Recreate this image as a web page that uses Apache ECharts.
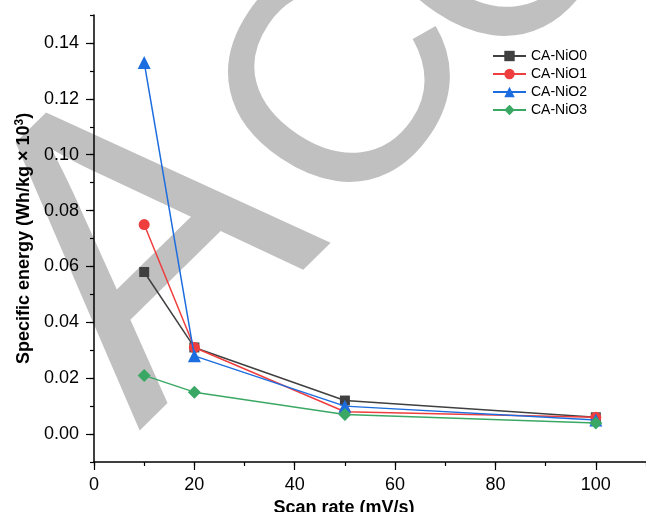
<!DOCTYPE html>
<html>
<head>
<meta charset="utf-8">
<script src="https://cdn.jsdelivr.net/npm/echarts@6/dist/echarts.min.js"></script>
<style>
html,body{margin:0;padding:0;background:#fff;}
#chart{width:646px;height:512px;}
</style>
</head>
<body>
<div id="chart"></div>
<script>
// ---- data ----
var scanRates = [10, 20, 50, 100];
var seriesNames = ['CA-NiO0', 'CA-NiO1', 'CA-NiO2', 'CA-NiO3'];
var nio0 = [0.058, 0.031, 0.012, 0.006];
var nio1 = [0.075, 0.031, 0.008, 0.006];
var nio2 = [0.133, 0.028, 0.010, 0.005];
var nio3 = [0.021, 0.015, 0.007, 0.004];
var xTickLabels = [0, 20, 40, 60, 80, 100];
var yTickLabels = [0.00, 0.02, 0.04, 0.06, 0.08, 0.10, 0.12, 0.14];
var watermarkLetters = ['A', 'C', 'C'];

// ---- styles ----
var colors = ['#404040', '#ef3e3e', '#1c6ddf', '#3aa864'];
var symbols = ['rect', 'circle', 'triangle', 'diamond'];
var symbolSizes = [10, 11, 13, 13];
var FONT = '"Liberation Sans", Arial, sans-serif';
// watermark letter placement (decoration)
var wmPlace = [
  {x: 153, y: 253, rot: 44.5, size: 425, sx: 0.95},
  {x: 353, y: 91, rot: 56, size: 310, sx: 1},
  {x: 508, y: -55, rot: 56, size: 310, sx: 1}
];

function pairs(ys) { return scanRates.map(function (x, i) { return [x, ys[i]]; }); }
var allValues = [nio0, nio1, nio2, nio3];

var chart = echarts.init(document.getElementById('chart'), null, {renderer: 'canvas'});

var series = allValues.map(function (vals, i) {
  return {
    name: seriesNames[i],
    type: 'line',
    xAxisIndex: 0,
    yAxisIndex: 0,
    data: pairs(vals),
    symbol: symbols[i],
    symbolSize: symbolSizes[i],
    showAllSymbol: true,
    lineStyle: {color: colors[i], width: 1.5},
    itemStyle: {color: colors[i]},
    emphasis: {disabled: true},
    z: 3 + i
  };
});

var watermark = watermarkLetters.map(function (ch, i) {
  var p = wmPlace[i];
  return {
    type: 'text',
    silent: true,
    x: p.x, y: p.y,
    rotation: p.rot * Math.PI / 180,
    scaleX: p.sx,
    z: -1,
    style: {
      text: ch,
      font: p.size + 'px "Liberation Sans", Arial, sans-serif',
      fill: '#c0c0c0',
      align: 'center',
      verticalAlign: 'middle'
    }
  };
});

var option = {
  backgroundColor: '#ffffff',
  animation: false,
  textStyle: {fontFamily: FONT},
  grid: {left: 94, top: 15, right: 0, bottom: 50, containLabel: false, outerBoundsMode: 'none'},
  legend: {
    data: seriesNames,
    orient: 'vertical',
    left: 492,
    top: 49,
    padding: 0,
    itemWidth: 33,
    itemHeight: 13,
    itemGap: 4,
    textStyle: {fontFamily: FONT, fontSize: 14, color: '#000', lineHeight: 14},
    selectedMode: false
  },
  xAxis: [{
    type: 'value',
    min: 0, max: 110, interval: 10,
    axisLine: {show: true, onZero: false, lineStyle: {color: '#000', width: 1.5}},
    axisTick: {show: true, inside: false, length: 4, lineStyle: {color: '#000', width: 1.2}},
    axisLabel: {customValues: xTickLabels, margin: 14, fontSize: 18, color: '#000', fontFamily: FONT},
    splitLine: {show: false},
    name: 'Scan rate (mV/s)',
    nameLocation: 'middle',
    nameGap: 31,
    nameTextStyle: {fontSize: 18, fontWeight: 'bold', color: '#000', fontFamily: FONT, padding: [0, 52, 0, 0]}
  }, {
    type: 'value',
    position: 'bottom',
    min: 0, max: 110, interval: 10,
    axisLine: {show: false, onZero: false},
    axisTick: {show: true, inside: false, length: 8, customValues: xTickLabels, lineStyle: {color: '#000', width: 1.2}},
    axisLabel: {show: false},
    splitLine: {show: false}
  }],
  yAxis: [{
    type: 'value',
    min: -0.01, max: 0.15, interval: 0.01,
    axisLine: {show: true, onZero: false, lineStyle: {color: '#000', width: 1.5}},
    axisTick: {show: true, inside: false, length: 4, lineStyle: {color: '#000', width: 1.2}},
    axisLabel: {
      customValues: yTickLabels, margin: 15, fontSize: 18, color: '#000', fontFamily: FONT,
      formatter: function (v) { return v.toFixed(2); }
    },
    splitLine: {show: false},
    name: 'Specific energy (Wh/kg × 10{sup|3})',
    nameLocation: 'middle',
    nameGap: 60,
    nameRotate: 90,
    nameTextStyle: {
      fontSize: 18, fontWeight: 'bold', color: '#000', fontFamily: FONT,
      rich: {sup: {fontSize: 12, fontWeight: 'bold', color: '#000', fontFamily: FONT, verticalAlign: 'top', padding: [0, 0, 8, 0]}}
    }
  }, {
    type: 'value',
    position: 'left',
    min: -0.01, max: 0.15, interval: 0.01,
    axisLine: {show: false, onZero: false},
    axisTick: {show: true, inside: false, length: 8, customValues: yTickLabels, lineStyle: {color: '#000', width: 1.2}},
    axisLabel: {show: false},
    splitLine: {show: false}
  }],
  graphic: watermark,
  series: series
};
chart.setOption(option);
</script>
</body>
</html>
